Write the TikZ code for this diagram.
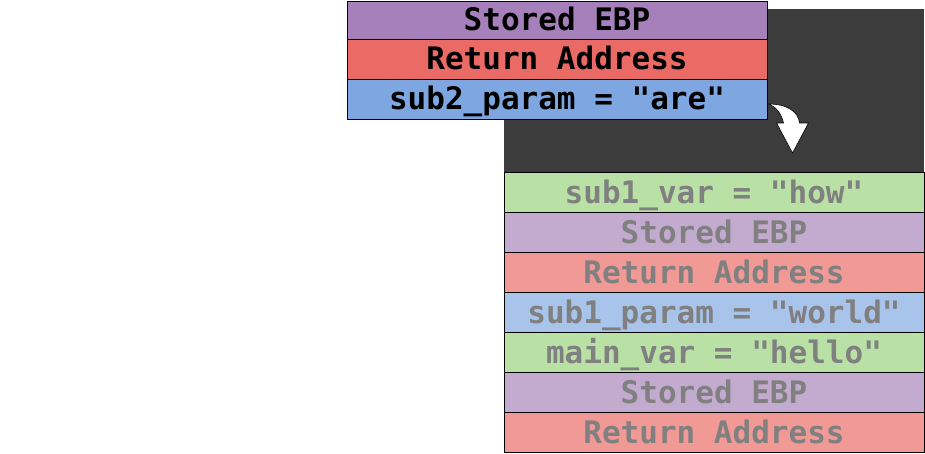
\documentclass[tikz,border=0pt]{standalone}
\usepackage{fontspec}
\newfontfamily\stackmono{DejaVu Sans Mono}
\usetikzlibrary{calc}
\definecolor{darkbg}{RGB}{60,60,60}
\definecolor{purA}{RGB}{166,128,187}
\definecolor{redA}{RGB}{234,107,102}
\definecolor{bluA}{RGB}{126,166,224}
\definecolor{grnB}{RGB}{185,224,165}
\definecolor{purB}{RGB}{195,171,208}
\definecolor{redB}{RGB}{240,153,149}
\definecolor{bluB}{RGB}{169,196,235}
\definecolor{txtgray}{RGB}{128,128,128}
\tikzset{
  cell/.style={draw=black, line width=1pt, minimum width=420pt, minimum height=40pt,
    inner sep=0pt, text height=24pt, text depth=2.4pt,
    font=\stackmono\bfseries\fontsize{31}{31}\selectfont},
  oldcell/.style={cell, text=txtgray},
  newcell/.style={cell, text=black},
  fatarrow/.style={fill=white, draw=black, line width=0.6pt, line join=round}
}
\begin{document}
\begin{tikzpicture}[x=1pt, y=-1pt]
\useasboundingbox (0,0) rectangle (925,453);
% dark background panel
\fill[darkbg] (504,9) rectangle (924,172.5);
% lower (older) stack
\node[oldcell, fill=grnB] (v1) at (714,192.5) {sub1\_var = "how"};
\node[oldcell, fill=purB] (e1) at (714,232.5) {Stored EBP};
\node[oldcell, fill=redB] (r1) at (714,272.5) {Return Address};
\node[oldcell, fill=bluB] (p1) at (714,312.5) {sub1\_param = "world"};
\node[oldcell, fill=grnB] (v0) at (714,352.5) {main\_var = "hello"};
\node[oldcell, fill=purB] (e0) at (714,392.5) {Stored EBP};
\node[oldcell, fill=redB] (r0) at (714,432.5) {Return Address};
% upper (new) frame
\node[newcell, fill=purA, minimum height=38pt] (e2) at (557,20) {Stored EBP};
\node[newcell, fill=redA] (r2) at (557,59) {Return Address};
\node[newcell, fill=bluA] (p2) at (557,99) {sub2\_param = "are"};
% curved fat arrow
\coordinate (a0) at ($(p2.east)+(1,5)$);
\path[fatarrow] (a0) .. controls ($(a0)+(19,0)$) and ($(a0)+(30,8)$) .. ($(a0)+(31,19)$)
  -- ($(a0)+(40,19)$) -- ($(a0)+(24,49)$) -- ($(a0)+(8,19)$) -- ($(a0)+(15,19)$)
  .. controls ($(a0)+(13,10)$) and ($(a0)+(8,3)$) .. (a0) -- cycle;
\end{tikzpicture}
\end{document}
